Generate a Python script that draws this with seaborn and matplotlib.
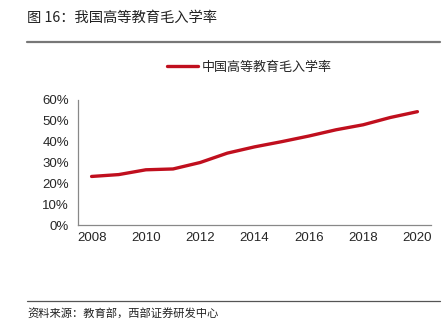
import matplotlib
matplotlib.use("Agg")
import matplotlib.pyplot as plt
import seaborn as sns
import pandas as pd
import numpy as np

years = ["2008", "2009", "2010", "2011", "2012", "2013", "2014", "2015", "2016", "2017", "2018", "2019", "2020"]
rates = [23.3, 24.2, 26.5, 26.9, 30.0, 34.5, 37.5, 40.0, 42.7, 45.7, 48.1, 51.6, 54.4]
series_name = "中国高等教育毛入学率"
title = "图 16：我国高等教育毛入学率"
source = "资料来源：教育部，西部证券研发中心"
ytick_vals = [0, 10, 20, 30, 40, 50, 60]

sns.set_style("white")
plt.rcParams['font.family'] = ['Liberation Sans', 'Noto Sans CJK SC', 'DejaVu Sans']

df = pd.DataFrame({"year": years, "rate": rates})
df["pos"] = np.arange(len(years))

fig = plt.figure(figsize=(4.42, 3.33), dpi=100)
ax = fig.add_axes([78/442, 1-225/333, (431-78)/442, 125/333])

red = "#C00F1E"
sns.lineplot(data=df, x="pos", y="rate", ax=ax, color=red, linewidth=2.4, label=series_name, legend=False)

ax.set_xlim(-0.5, len(years) - 0.5)
ax.set_ylim(0, 60)
ax.set_xlabel("")
ax.set_ylabel("")

# y axis
ax.set_yticks(ytick_vals)
ax.set_yticklabels([f"{v}%" for v in ytick_vals], fontsize=9.5, family=['Liberation Sans'])
# x axis: boundary ticks, labels centered every 2 years
ax.set_xticks(np.arange(-0.5, len(years), 1.0), minor=True)
ax.set_xticks(df["pos"][::2])
ax.set_xticklabels(df["year"][::2], fontsize=9.5, family=['Liberation Sans'])
ax.tick_params(axis='x', which='major', length=0, pad=5)
ax.tick_params(axis='x', which='minor', length=3.5, color='#888888', direction='out', width=0.8)
ax.tick_params(axis='y', which='major', length=3.5, color='#888888', direction='out', width=0.8, pad=3)

for s in ['top', 'right']:
    ax.spines[s].set_visible(False)
for s in ['left', 'bottom']:
    ax.spines[s].set_color('#888888')
    ax.spines[s].set_linewidth(0.9)

# legend
leg = ax.legend(handles=[plt.Line2D([0], [0], color=red, lw=2.4)], labels=[series_name],
          loc='center left', bbox_to_anchor=(155/442, 1-67/333), bbox_transform=fig.transFigure,
          frameon=False, handlelength=2.4, handletextpad=0.3,
          prop={'family': ['Noto Sans CJK SC'], 'size': 9.4})

# title and lines
fig.text(27/442, 1-18/333, title, fontsize=10.3, va='center', ha='left',
         family=['Noto Sans CJK SC', 'DejaVu Sans'], color='#222222')
fig.add_artist(plt.Line2D([27/442, 440/442], [1-42/333, 1-42/333], color='#777777', lw=1.6,
                          transform=fig.transFigure))
fig.add_artist(plt.Line2D([27/442, 440/442], [1-301/333, 1-301/333], color='#555555', lw=0.9,
                          transform=fig.transFigure))
fig.text(27/442, 1-314/333, source, fontsize=8.1, va='center', ha='left',
         family=['Noto Sans CJK SC', 'DejaVu Sans'], color='#222222')

fig.savefig("out.png", dpi=100)
